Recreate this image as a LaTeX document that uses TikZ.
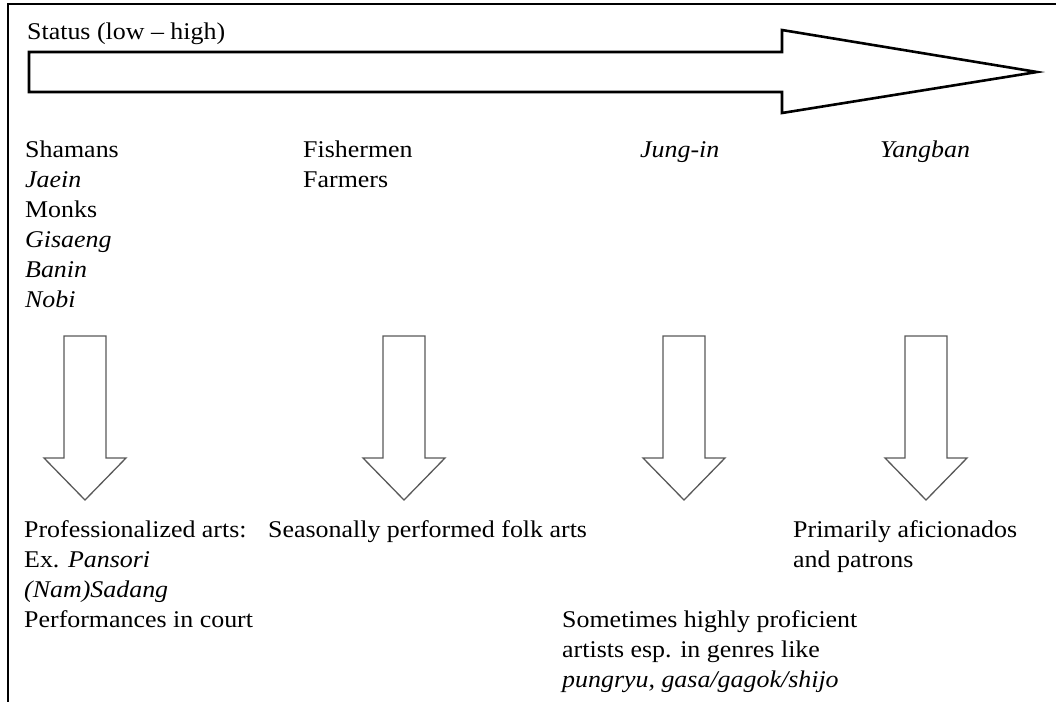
\documentclass[tikz,border=0pt]{standalone}
\usepackage{fontspec}
\setmainfont{Liberation Serif}[FakeStretch=1.08]
\begin{document}
\begin{tikzpicture}[x=1pt,y=-1pt,
  txt/.style={anchor=base west, inner sep=0pt, align=left, font=\fontsize{24}{30}\selectfont},
  frameline/.style={line width=2.4pt, black},
  bigarrow/.style={draw=black, line width=2.6pt, line join=miter, fill=white},
  downarrow/.style={draw=black!65, line width=1.3pt, line join=miter, fill=white},
  darrow/.pic={\draw[downarrow] (-21,336) -- (21,336) -- (21,458) -- (41,458) -- (0,500) -- (-41,458) -- (-21,458) -- cycle;}
]
\useasboundingbox (0,0) rectangle (1056,702);
% frame
\coordinate (ftl) at (8,4);
\coordinate (ftr) at (1056,4);
\coordinate (fbl) at (8,702);
\draw[frameline] (ftr) -- (ftl) -- (fbl);
% status arrow
\node[txt] (status) at (27,39) {Status (low -- high)};
\draw[bigarrow] (29,52) -- (782,52) -- (782,30) -- (1037,72) -- (782,113) -- (782,92) -- (29,92) -- cycle;
% groups (anchor = baseline of last line)
\node[txt] (c1) at (25,307) {Shamans\\\textit{Jaein}\\Monks\\\textit{Gisaeng}\\\textit{Banin}\\\textit{Nobi}};
\node[txt] (c2) at (303,187) {Fishermen\\Farmers};
\node[txt] (c3) at (640,157) {\textit{Jung-in}};
\node[txt] (c4) at (880,157) {\textit{Yangban}};
% down arrows
\pic at (85,0) {darrow};
\pic at (404,0) {darrow};
\pic at (684,0) {darrow};
\pic at (926,0) {darrow};
% results
\node[txt] (r1) at (24,627) {Professionalized arts:\\Ex. \textit{Pansori}\\\textit{(Nam)Sadang}\\Performances in court};
\node[txt] (r2) at (268,537) {Seasonally performed folk arts};
\node[txt] (r4) at (793,567) {Primarily aficionados\\and patrons};
\node[txt] (r3) at (562,687) {Sometimes highly proficient\\artists esp. in genres like\\\textit{pungryu, gasa/gagok/shijo}};
\end{tikzpicture}
\end{document}
